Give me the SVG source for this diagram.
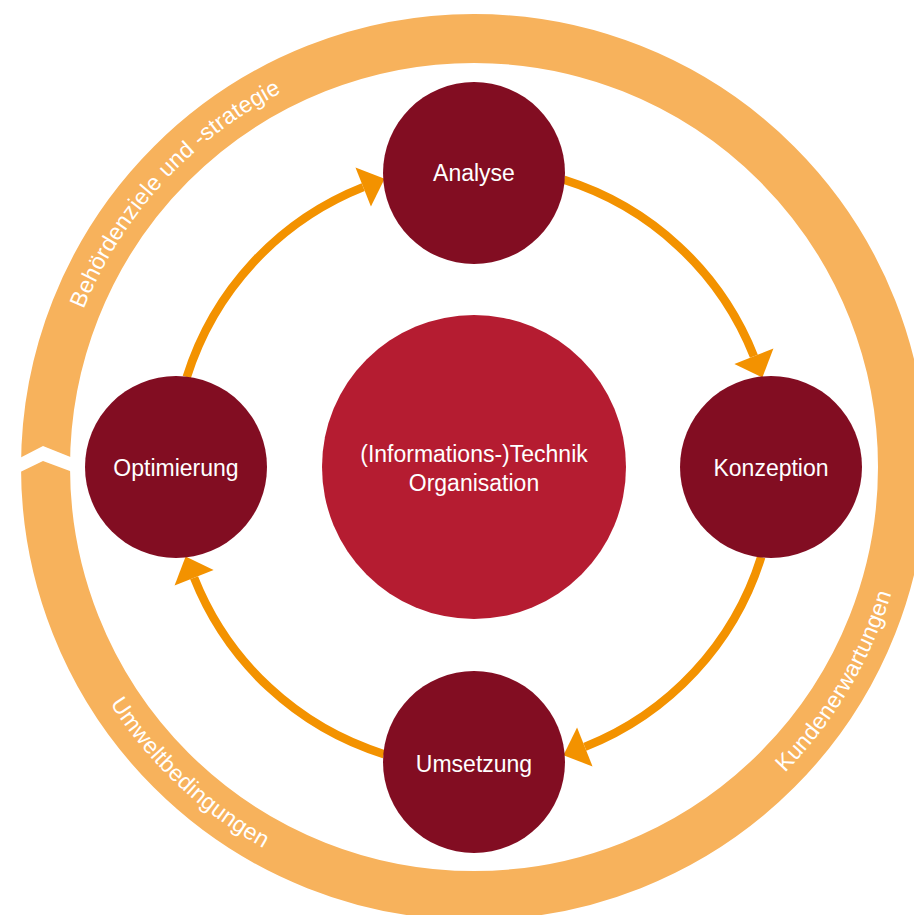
<svg xmlns="http://www.w3.org/2000/svg" xmlns:xlink="http://www.w3.org/1999/xlink" width="914" height="915" viewBox="0 0 914 915">
<style>
.ring{fill:none;stroke:#F7B25C;stroke-width:49}
.ringtxt{font-family:"Liberation Sans",Arial,sans-serif;font-size:23px;fill:#FFFFFF;letter-spacing:0.2px}
.node{fill:#820D22}
.core{fill:#B51C31}
.lbl{font-family:"Liberation Sans",Arial,sans-serif;font-size:23px;fill:#FFFFFF;text-anchor:middle}
.conn{fill:none;stroke:#F39200;stroke-width:8.5;marker-end:url(#head)}
</style>
<defs>
<marker id="head" markerUnits="userSpaceOnUse" markerWidth="24" markerHeight="44" viewBox="0 -22 24 44" refX="0" refY="0" orient="auto" overflow="visible">
<path d="M0,-21 L23,0 L0,21 z" fill="#F39200"/>
</marker>
<path id="p1" d="M83.7,309.3 A421,421 0 0 1 330.0,71.4"/>
<path id="p2" d="M785.0,772.6 A436,436 0 0 0 903.4,542.7"/>
<path id="p3" d="M110.0,703.5 A436,436 0 0 0 324.9,876.7"/>
</defs>
<g id="outer-ring">
<circle class="ring" cx="474" cy="467" r="428.5"/>
<polygon points="12,462 43,446 78,460 78,474 43,461 12,476" fill="#FFFFFF"/>
<text class="ringtxt"><textPath xlink:href="#p1" href="#p1" startOffset="0">Behördenziele und -strategie</textPath></text>
<text class="ringtxt"><textPath xlink:href="#p2" href="#p2" startOffset="0">Kundenerwartungen</textPath></text>
<text class="ringtxt"><textPath xlink:href="#p3" href="#p3" startOffset="0">Umweltbedingungen</textPath></text>
</g>
<g id="connectors">
<path class="conn" d="M564.0,179.8 A301,301 0 0 1 753.9,356.2"/>
<path class="conn" d="M761.2,557.0 A301,301 0 0 1 584.8,746.9"/>
<path class="conn" d="M384.0,754.2 A301,301 0 0 1 194.1,577.8"/>
<path class="conn" d="M186.8,377.0 A301,301 0 0 1 363.2,187.1"/>
</g>
<g id="center">
<circle class="core" cx="474" cy="467" r="152"/>
<text class="lbl" x="474" y="462">(Informations-)Technik</text>
<text class="lbl" x="474" y="491">Organisation</text>
</g>
<g id="analyse">
<circle class="node" cx="474" cy="173" r="91"/>
<text class="lbl" x="474" y="181">Analyse</text>
</g>
<g id="konzeption">
<circle class="node" cx="771" cy="467" r="91"/>
<text class="lbl" x="771" y="476">Konzeption</text>
</g>
<g id="umsetzung">
<circle class="node" cx="474" cy="762" r="91"/>
<text class="lbl" x="474" y="772">Umsetzung</text>
</g>
<g id="optimierung">
<circle class="node" cx="176" cy="467" r="91"/>
<text class="lbl" x="176" y="476">Optimierung</text>
</g>
</svg>
